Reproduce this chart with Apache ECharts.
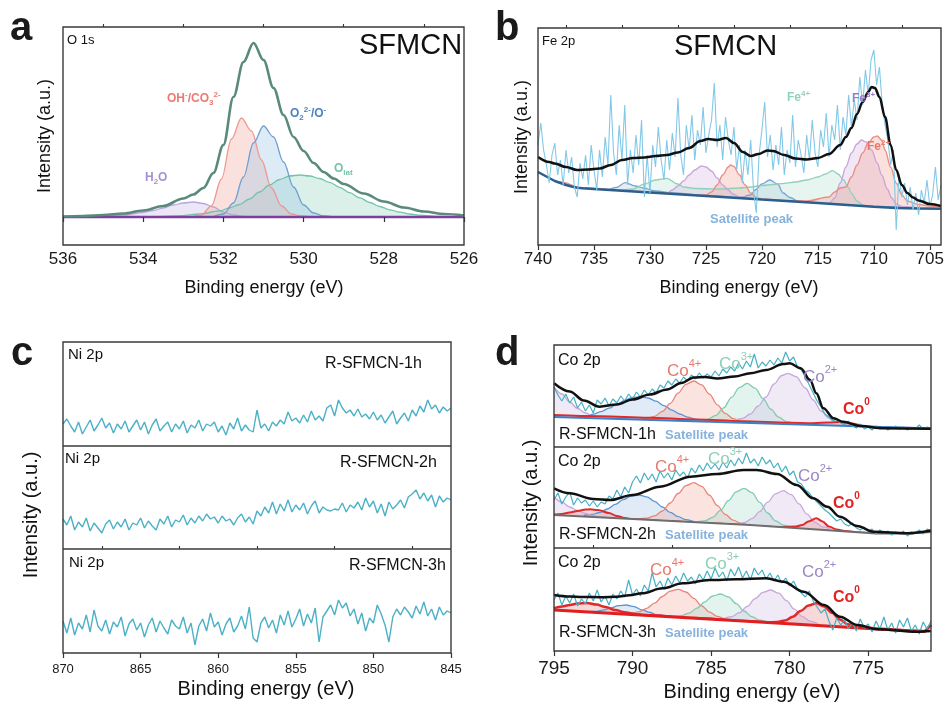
<!DOCTYPE html>
<html><head><meta charset="utf-8">
<script src="https://cdn.jsdelivr.net/npm/echarts@6/dist/echarts.min.js"></script>
<style>html,body{margin:0;padding:0;background:#fff}#c{width:947px;height:707px}</style>
</head><body><div id="c"></div>
<script>
// ---------------- DATA ----------------
// Panel a: O 1s (values = height above the flat background, in chart units)
const aTicks = [536, 534, 532, 530, 528, 526];
const aMinor = [535, 533, 531, 529, 527];
const aBaseline = [[536, 0], [526, 0]];
const aEnvelope = [[536,0.5],[535.5,1],[535,2],[534.5,3.5],[534,6.5],[533.5,11],[533,18.5],[532.75,22.5],[532.5,29],[532.25,44],[532,72],[531.75,120],[531.5,155],[531.25,174],[531,157],[530.75,129],[530.5,102],[530.25,80],[530,66],[529.75,54],[529.5,45],[529.25,38.5],[529,33],[528.5,23.5],[528,15.5],[527.5,9.5],[527,5.5],[526.5,3],[526,1.5]];
const aOH = [[532.8,0],[532.55,2],[532.3,11],[532.05,38],[531.8,78],[531.55,99],[531.3,86],[531.05,57],[530.8,29],[530.55,11],[530.3,3],[530.05,1],[529.8,0]];
const aO2 = [[532.25,0.5],[532,3],[531.75,14],[531.5,40],[531.25,74],[531,91],[530.75,80],[530.5,55],[530.25,30],[530,12],[529.75,4],[529.5,1],[529.25,0]];
const aOlat = [[534.1,0],[533.6,0.3],[533.1,1.2],[532.6,3],[532.1,6],[531.85,9],[531.6,12.5],[531.35,18],[531.1,25],[530.85,32],[530.6,37.5],[530.35,41],[530.1,42],[529.85,41],[529.6,38.5],[529.35,34.6],[529.1,29.7],[528.85,24.4],[528.6,19.2],[528.35,14.5],[528.1,10.5],[527.85,7.2],[527.6,4.8],[527.35,3],[527.1,1.8],[526.6,0.5],[526.1,0]];
const aH2O = [[535,0.5],[534.5,2],[534,4.5],[533.75,6.5],[533.5,9],[533.25,12],[533,14],[532.75,15],[532.5,13.5],[532.25,10],[532,5],[531.75,2],[531.5,0.5],[531.25,0]];

// Panel b: Fe 2p
const bTicks = [740, 735, 730, 725, 720, 715, 710, 705];
const bMinor = [737.5, 732.5, 727.5, 722.5, 717.5, 712.5, 707.5];
const bBase = [[740,73],[739.5,70],[739,67],[738.5,64],[738,62],[737.5,60],[737,58.5],[736.5,57.2],[736,56.7],[735,56],[730,52.5],[725,49],[720,45.4],[715,41.9],[710,38.3],[708,37],[706,36.5],[704,36.2]];
const bFit = [[740,88],[739,83],[738.5,81.5],[737.5,78],[736.5,75],[735.5,75.5],[734.5,76.5],[733.5,80],[732.5,85],[731.5,87],[730.5,87.5],[729.5,89],[728.5,90],[727.5,92.5],[726.5,97],[725.5,104],[724.8,106],[724,105],[723.2,107],[722.5,102],[721.7,93],[721,89],[720.3,91],[719.5,94.5],[719,94],[718,90],[717,86.5],[716,85.5],[715,87],[714,91],[713,100],[712.5,108],[712,117],[711.5,131],[711,143],[710.5,153],[710.2,158],[709.9,157],[709.5,148],[709,128],[708.5,100],[708,75],[707.5,60],[707,52],[706.5,47.5],[706,44.5],[705,41],[704,39]];
const bFe2 = [[740,73.5],[738,63],[736,57],[730,53],[726,50],[725,50],[724.5,53],[724,60],[723.5,70],[723,78],[722.8,80],[722.5,78.5],[722,70],[721.5,60],[721,52],[720.5,47.5],[720,46],[718,44.5],[716,44],[714,48],[713.5,53],[713,57],[712.5,58],[712,68],[711.5,80],[711,92],[710.5,102],[710,108],[709.7,109],[709.3,105],[709,95],[708.5,78],[708,62],[707.5,50],[707,44],[706,40.5],[705,39],[704,38.5]];
const bFe3 = [[740,72.5],[738,62.5],[736,56.8],[730,53],[728.5,51.5],[728,55],[727.5,59],[727,64],[726.5,70],[726,75],[725.4,79],[725,78],[724.5,74],[724,67],[723.5,60],[723,55],[722.6,51],[722,48],[720,45.5],[716,42.5],[714,41.5],[713.5,47],[713,62],[712.5,78],[712,92],[711.5,101],[711.1,105],[710.7,103],[710.2,95],[709.7,82],[709.3,70],[708.8,56],[708.4,47],[708,41],[707.5,38.5],[706,37],[704,36.5]];
const bFe4 = [[740,72],[738,62],[736,56.5],[733,54.5],[731.5,56],[730.5,61],[729.5,65],[728.5,66.7],[727.5,61],[727,58],[726,56.5],[724,56],[722,57],[721,58],[720,59.5],[719,60.5],[718,61.7],[717,63],[716,65],[715,68],[714.3,71],[713.7,74.3],[713.2,71],[712.7,65],[712.3,58],[712,51.7],[711.5,44],[711,40],[710.5,38.5],[709,37.5],[704,36.2]];
const bSat = [[740,72],[738,62],[736,56.5],[734,55],[733,57.5],[732.2,62.3],[731.3,59],[730.6,57],[729.5,54],[728,52],[725,49.5],[722,47.5],[721,50],[720.6,55],[720,61],[719.3,65],[718.6,61],[718.1,52],[717.5,47.5],[716.7,43.5],[714,41],[710,38.5],[704,36.2]];
const bRawStart = 740, bRawStep = -0.25;
const bRaw = [
 100,122,95,80,62,90,102,70,85,60,
 95,72,88,58,48,82,66,90,60,100,
 75,55,95,68,108,80,150,92,70,120,
 85,140,60,95,72,110,80,125,48,90,
 52,100,78,118,85,65,105,75,112,88,
 147,90,70,120,95,130,85,115,100,138,
 92,110,125,162,98,120,85,128,105,90,
 118,75,100,62,95,70,105,55,32,90,
 115,143,88,110,75,100,80,118,70,95,
 82,130,78,105,90,72,110,85,125,92,
 78,115,98,132,88,120,105,140,95,128,
 110,150,118,145,125,168,140,175,150,185,
 195,160,178,140,120,105,80,95,15,70,
 48,62,40,58,35,52,30,55,42,65,
 38,50,78,45,60];

// Panel c: Ni 2p
const cTicks = [870, 865, 860, 855, 850, 845];
const cMinor = [867.5, 862.5, 857.5, 852.5, 847.5];
const cRawStart = 870, cRawStep = -0.25;
const c1Raw = [
 22,27,20,14,24,12,19,26,15,21,
 28,18,23,13,22,17,25,14,20,26,
 16,24,12,21,27,15,20,24,14,22,
 17,25,13,21,18,26,15,22,20,24,
 14,20,11,23,17,28,15,21,16,14,
 36,18,22,15,24,20,26,22,34,25,
 28,23,31,24,35,26,30,25,38,41,
 30,46,38,33,36,30,37,29,32,27,
 34,26,31,23,29,35,22,28,33,25,
 36,30,40,34,46,37,41,33,39,35,
 38];
const c2Raw = [
 30,24,33,19,27,22,31,18,26,21,
 16,25,29,20,27,22,30,19,26,24,
 31,21,28,23,19,30,25,33,22,29,
 27,34,24,31,26,33,28,35,30,32,
 26,33,28,30,24,31,35,27,32,25,
 38,33,42,36,47,35,45,38,49,37,
 44,39,46,35,43,48,36,42,39,38,
 40,39,46,37,44,41,47,39,51,42,
 48,36,45,33,47,40,44,49,41,52,
 55,59,50,56,48,54,42,53,47,51,
 49];
const c3Raw = [
 32,20,35,18,30,24,38,21,43,27,
 22,33,19,31,26,36,17,29,34,23,
 30,16,28,35,21,32,25,19,33,27,
 24,36,20,30,8,27,34,22,40,26,
 31,18,29,35,21,27,37,24,46,15,
 11,30,36,25,33,20,38,28,42,26,
 34,44,27,39,30,45,11,36,42,48,
 38,53,45,50,37,44,29,40,22,35,
 30,48,39,28,11,36,44,38,46,41,
 35,47,39,51,37,44,33,46,38,42,
 40];

// Panel d: Co 2p
const dTicks = [795, 790, 785, 780, 775];
const dMinor = [792.5, 787.5, 782.5, 777.5, 772.5];
const dRawStart = 795, dRawStep = -0.25;
// d1 (R-SFMCN-1h)
const d1Base = [[795,30],[771,18.5]];
const d1Fit = [[795,63.7],[794,55.5],[793.1,46.5],[792.1,40.3],[791,42.5],[790,47.5],[788.9,52.5],[787.8,57.5],[786.9,64],[786.1,69.5],[785.4,70],[784.6,68.5],[783.5,70.5],[782.5,73.7],[781.5,77],[780.4,83],[780,83.7],[779.3,78.7],[778.7,67],[778.3,53.7],[777.85,38.7],[777.2,28.7],[776.6,25.3],[775.5,21],[774,18.7],[771,18.3]];
const d1Co0 = [[795,32],[792,30.8],[789,29.3],[786,27.5],[783,25.8],[780,24.2],[778.5,23.8],[777.5,24.5],[776.8,25],[776,23.5],[775.2,20.5],[774,19.2],[771,18.6]];
const d1Co2 = [[795,60],[794.5,53],[794,45],[793.5,38.5],[793,34],[792.5,31],[792,29.5],[790,28],[787,26.8],[784,25.3],[783,28.5],[782.5,33],[782,41],[781.5,50],[781,63],[780.5,71.5],[780.1,73.7],[779.6,70.5],[779,59],[778.5,47],[778,36],[777.5,29],[777,25],[776,22],[774,20],[771,18.6]];
const d1Co3 = [[786.5,26.2],[785.7,26.2],[785.2,27.7],[784.7,31.6],[784.2,39.2],[783.7,49.6],[783.2,59.3],[782.7,63.7],[782.2,58.9],[781.7,48.6],[781.2,37.8],[780.7,29.8],[780.2,25.3],[779.7,23.4]];
const d1Co4 = [[789.6,27.7],[789.1,28.5],[788.6,30.7],[788.1,35.6],[787.6,43.7],[787.1,53.8],[786.6,62.7],[786.1,66],[785.6,62.2],[785.1,52.9],[784.6,42.2],[784.1,33.7],[783.6,28.3],[783.1,25.6],[782.6,24.4]];
const d1Sat = [[793.5,30.3],[793,31.1],[792.5,32.8],[792,35.4],[791.5,38.8],[791,42.9],[790.5,46.7],[790,49.5],[789.5,50.4],[789,49],[788.5,45.8],[788,41.4],[787.5,36.9],[787,33],[786.5,29.9],[786,27.8],[785.5,26.5],[785,25.2]];
const d1Raw = [
 60,52,46,53,44,50,39,45,36,42,
 34,47,43,49,41,48,44,51,46,53,
 48,55,50,57,52,58,54,62,59,66,
 62,68,64,70,66,72,68,74,69,73,
 70,76,71,78,74,80,76,84,78,86,
 80,93,79,85,81,87,82,89,84,95,
 86,90,80,77,70,62,54,46,40,33,
 30,26,28,24,22,26,21,19,23,18,
 20,17,21,18,20,17,19,21,18,20,
 17,19,18,22,18,20,19];
// d2 (R-SFMCN-2h)
const d2Base = [[795,33],[782.5,23],[774.5,14.5],[772.5,14.5],[771,16]];
const d2Fit = [[795,59.7],[794,54.7],[792.5,49],[791.4,48],[790,53],[788.25,61.3],[786.3,71.3],[784.6,74],[782.95,78],[782.1,78],[780.8,74],[779.55,63],[778.5,49.7],[777.6,41.3],[776.8,31.3],[775.7,22],[774.65,16.3],[772.5,14.7],[771,17.5]];
const d2Co0 = [[795,33.5],[794.5,34],[794,35.5],[793.5,37],[793,38.5],[792.7,38.7],[792.2,38],[791.5,35],[791,32],[790.5,30],[790,28.8],[788,27],[785,24.6],[782,21.9],[780.5,20.8],[779.6,21.5],[779.2,23],[778.8,26.5],[778.3,29.7],[777.9,26.5],[777.5,21.5],[777,18.5],[776.5,17],[775.5,15.5],[774.5,14.6],[772.5,14.6],[771,16]];
const d2Co2 = [[795,51.3],[794.5,46],[794,41],[793.5,37.5],[793,34.5],[792.5,32.3],[792,31],[791,29.8],[790,28.8],[786,25.4],[784,23.7],[783.4,24],[782.9,25.4],[782.4,29.3],[781.9,36.4],[781.4,45.8],[780.9,54.2],[780.4,57.3],[779.9,53.3],[779.4,44.1],[778.9,33.9],[778.4,25.9],[777.9,21.2],[777.4,19]];
const d2Co3 = [[785.9,26],[785.4,27.1],[784.9,30.6],[784.4,37.6],[783.9,47.3],[783.4,56.2],[782.9,59.7],[782.4,55.3],[781.9,45.6],[781.4,35],[780.9,27.2],[780.4,22.9],[779.9,20.9]];
const d2Co4 = [[789.6,29],[789.1,29.8],[788.6,32.1],[788.1,37],[787.6,45],[787.1,54.5],[786.6,62.4],[786.1,65.3],[785.6,61.6],[785.1,52.8],[784.6,42.4],[784.1,33.6],[783.6,27.8],[783.1,24.7],[782.6,23]];
const d2Sat = [[793.1,32.5],[792.6,33.5],[792.1,35.5],[791.6,39],[791.1,43.6],[790.6,48.4],[790.1,51.9],[789.6,53],[789.1,51.1],[788.6,46.7],[788.1,41],[787.6,35.6],[787.1,31.3],[786.6,28.3],[786.1,26.5]];
const d2Raw = [
 48,55,44,51,56,43,50,45,48,42,
 47,41,46,44,52,49,58,51,61,55,
 66,72,65,75,68,74,66,77,70,75,
 68,78,72,76,70,80,75,83,77,85,
 79,84,78,86,80,88,82,90,84,95,
 85,89,82,91,84,88,80,85,76,82,
 73,77,66,64,58,55,50,46,42,38,
 35,31,27,29,24,22,25,20,18,21,
 16,19,14,18,15,17,13,16,14,17,
 12,16,15,18,14,19,17];
// d3 (R-SFMCN-3h)
const d3Base = [[795,41],[783,30],[775,22.6],[771.4,19.5],[771,26]];
const d3Fit = [[795,56],[794,54.5],[793.2,54],[792,53.8],[791,54.3],[790.2,55.8],[789.4,57.7],[788.1,62.7],[786.8,67.7],[785.1,71],[783.4,71.7],[781.5,72.7],[780.4,69.3],[779.1,59.3],[777.8,46],[776.8,34.3],[775.7,26],[774.4,21.7],[771.9,19.3],[771,20]];
const d3Co0 = [[795,42.9],[794.5,44.5],[794,46],[793.5,47.5],[792.9,48.1],[792.3,46.4],[791.7,43.9],[791.1,41],[790.5,38.8],[789.9,37.1],[789.3,36.1],[786,33.1],[783,30.1],[781.5,28.7],[780.8,29],[780.3,30.5],[779.8,34.2],[779.3,40],[778.8,45.5],[778.3,47.7],[777.8,44.6],[777.3,38.2],[776.8,31.5],[776.3,26.8],[775.8,24.4],[774,22],[772,20],[771.4,19.8],[771,26]];
const d3Co2 = [[784.2,32.5],[783.7,34.3],[783.2,38.3],[782.7,44.6],[782.2,52.3],[781.7,58.7],[781.2,61],[780.7,57.8],[780.2,50.4],[779.7,41.9],[779.2,34.6],[778.7,29.8],[778.2,27]];
const d3Co3 = [[787.4,34.5],[786.9,35.4],[786.4,37.9],[785.9,42.8],[785.4,49.2],[784.9,55],[784.4,57],[783.9,54.1],[783.4,47.4],[782.9,40],[782.4,34.3],[781.9,30.8],[781.4,29.1]];
const d3Co4 = [[790.1,37.7],[789.6,39.2],[789.1,42.6],[788.6,47.9],[788.1,54.5],[787.6,59.9],[787.1,61.7],[786.6,59],[786.1,52.6],[785.6,45.2],[785.1,38.9],[784.6,34.7],[784.1,32.2],[783.6,30.9],[783.1,30.3]];
const d3Sat = [[792.9,39.4],[792.4,39.6],[791.9,40.8],[791.4,43],[790.9,45.3],[790.4,46],[789.9,44.4],[789.4,41.2],[788.9,38.5],[788.4,36],[787.9,34.7]];
const d3Raw = [
 51,58,46,55,48,57,45,52,47,58,
 50,61,49,55,46,57,52,60,54,71,
 56,62,55,66,60,78,64,70,62,73,
 66,75,68,78,70,74,67,77,71,80,
 72,83,74,79,70,82,75,84,73,80,
 71,83,76,81,72,78,70,76,68,73,
 65,70,62,58,54,60,50,44,38,42,
 30,21,33,26,31,22,28,20,32,23,
 27,19,30,22,34,21,28,18,31,24,
 33,20,26,17,29,22,30];

// ---------------- BUILD ----------------
const FONT = '"Liberation Sans", Arial, Helvetica, sans-serif';
function pairs(start, step, vals) { return vals.map((v, i) => [start + step * i, v]); }

const grids = [
  {left: 63, top: 27, width: 401, height: 218},   // a
  {left: 538, top: 28, width: 403, height: 217},  // b
  {left: 63, top: 342, width: 388, height: 104},  // c1
  {left: 63, top: 446, width: 388, height: 103},  // c2
  {left: 63, top: 549, width: 388, height: 104},  // c3
  {left: 554, top: 345, width: 377, height: 102}, // d1
  {left: 554, top: 447, width: 377, height: 101}, // d2
  {left: 554, top: 548, width: 377, height: 103}  // d3
];
const xr = [[526,536],[704,740],[845,870],[845,870],[845,870],[771,795],[771,795],[771,795]];
const yr = [[-28,190],[0,217],[0,104],[0,103],[0,104],[0,102],[0,101],[0,103]];
const majors = [aTicks, bTicks, cTicks, cTicks, cTicks, dTicks, dTicks, dTicks];
const labelOn = [true, true, false, false, true, false, false, true];
const labFont = [17, 17, 13, 13, 13, 19, 19, 19];
const labMargin = [6, 6, 10, 10, 10, 8, 8, 8];

const xAxes = [], yAxes = [];
grids.forEach((g, i) => {
  xAxes.push({
    type: 'value', gridIndex: i, min: xr[i][0], max: xr[i][1], inverse: true, z: 10,
    axisLine: {show: false}, splitLine: {show: false},
    axisTick: {show: labelOn[i], inside: false, length: 5, lineStyle: {color: '#333', width: 1.2}, customValues: majors[i]},
    axisLabel: {show: labelOn[i], customValues: majors[i], fontSize: labFont[i], color: '#1a1a1a', fontFamily: FONT, margin: labMargin[i], showMinLabel: true, showMaxLabel: true}
  });
  yAxes.push({type: 'value', gridIndex: i, min: yr[i][0], max: yr[i][1], show: false});
});
// minor tick axes
[[0, aMinor], [1, bMinor], [4, cMinor], [7, dMinor]].forEach(([gi, mv]) => {
  xAxes.push({
    type: 'value', gridIndex: gi, min: xr[gi][0], max: xr[gi][1], inverse: true, z: 10,
    axisLine: {show: false}, splitLine: {show: false},
    axisTick: {show: true, inside: false, length: 3, lineStyle: {color: '#333', width: 1.1}, customValues: mv},
    axisLabel: {show: false}
  });
});

const series = [];
function add(gi, data, o) {
  series.push(Object.assign({
    type: 'line', xAxisIndex: gi, yAxisIndex: gi, data: data,
    showSymbol: false, symbol: 'none', smooth: 0.35, smoothMonotone: 'x',
    silent: true, animation: false, z: 2, lineStyle: {width: 1.3}
  }, o));
}
function comp(gi, data, line, fill, w) {
  add(gi, data, {lineStyle: {color: line, width: w || 1.3}, areaStyle: {color: fill, origin: 'auto'}, z: 2});
}
function base(gi, data, color, w) {
  add(gi, data, {smooth: false, lineStyle: {color: color, width: w}, areaStyle: {color: '#ffffff', opacity: 1, origin: 'start'}, z: 3});
}
function raw(gi, data, color, w) { add(gi, data, {smooth: false, lineStyle: {color: color, width: w || 1.2}, z: 4}); }
function fit(gi, data, color, w) { add(gi, data, {lineStyle: {color: color, width: w}, z: 5}); }

// a
comp(0, aH2O, '#b9a6dc', 'rgba(205,192,232,0.55)');
comp(0, aOlat, '#74c3aa', 'rgba(150,212,190,0.5)');
comp(0, aOH, '#ec9a90', 'rgba(244,170,160,0.5)');
comp(0, aO2, '#6e9fd2', 'rgba(160,198,232,0.5)');
base(0, aBaseline, '#7d3f9c', 2.5);
fit(0, aEnvelope, '#5a8a7d', 2.6);
// b
comp(1, bSat, '#76a5d6', 'rgba(160,190,228,0.4)');
comp(1, bFe4, '#8fd1b8', 'rgba(170,220,200,0.4)');
comp(1, bFe3, '#c9a4d8', 'rgba(212,180,225,0.45)');
comp(1, bFe2, '#eb8c80', 'rgba(242,160,148,0.45)');
base(1, bBase, '#2b5f8e', 2.5);
raw(1, pairs(bRawStart, bRawStep, bRaw), '#82c8e8', 1.1);
fit(1, bFit, '#111111', 2.5);
// c
raw(2, pairs(cRawStart, cRawStep, c1Raw), '#4cb0c6', 1.4);
raw(3, pairs(cRawStart, cRawStep, c2Raw), '#4cb0c6', 1.4);
raw(4, pairs(cRawStart, cRawStep, c3Raw), '#4cb0c6', 1.4);
// d
const dSets = [
  [5, d1Sat, d1Co4, d1Co3, d1Co2, d1Co0, d1Base, d1Raw, d1Fit, '#3d7fc6', 2, 2],
  [6, d2Sat, d2Co4, d2Co3, d2Co2, d2Co0, d2Base, d2Raw, d2Fit, '#6e6e6e', 2, 2],
  [7, d3Sat, d3Co4, d3Co3, d3Co2, d3Co0, d3Base, d3Raw, d3Fit, '#e02020', 3, 2.5]
];
dSets.forEach(s => {
  const gi = s[0];
  comp(gi, s[1], '#5b95d0', 'rgba(140,180,225,0.38)');
  comp(gi, s[2], '#e8857a', 'rgba(240,150,135,0.38)');
  comp(gi, s[3], '#7fcab3', 'rgba(150,215,195,0.38)');
  comp(gi, s[4], '#c8a8dc', 'rgba(205,180,225,0.42)');
  comp(gi, s[5], '#e02a2a', 'rgba(230,110,110,0.38)', s[11]);
  base(gi, s[6], s[9], s[10]);
  raw(gi, pairs(dRawStart, dRawStep, s[7]), '#48b0c5', 1.2);
  fit(gi, s[8], '#111111', 2.5);
});

// ---------------- TEXT & FRAMES ----------------
const G = [];
function txt(x, y, text, size, o) {
  const st = Object.assign({text: text, fontSize: size, fontFamily: FONT, fill: '#111', textAlign: 'left', textVerticalAlign: 'middle'}, o || {});
  G.push({type: 'text', x: x, y: y, z: 100, style: st});
}
function rtxt(x, y, text, size, color, weight, lhf) {
  const sm = Math.round(size * 0.64);
  const mk = (fs, va, lh) => ({fontSize: fs, fontWeight: weight, fill: color, color: color, fontFamily: FONT, verticalAlign: va, lineHeight: lh});
  G.push({type: 'text', x: x, y: y, z: 100, style: {
    text: text, fontSize: size, fontFamily: FONT, fontWeight: weight, fill: color, textAlign: 'left', textVerticalAlign: 'middle',
    rich: {b: mk(size, 'middle', Math.round(size * (lhf || 1.45))), p: mk(sm, 'top', sm + 1), s: mk(sm, 'bottom', sm + 1)}
  }});
}
function rot(x, y, text, size) {
  G.push({type: 'text', x: x, y: y, rotation: Math.PI / 2, z: 100, style: {text: text, fontSize: size, fontFamily: FONT, fill: '#111', textAlign: 'center', textVerticalAlign: 'middle'}});
}
function frame(x, y, w, h) {
  G.push({type: 'rect', z: 90, shape: {x: x, y: y, width: w, height: h}, style: {fill: 'none', stroke: '#3a3a3a', lineWidth: 1.4}});
}
function hline(x1, x2, y) {
  G.push({type: 'line', z: 90, shape: {x1: x1, y1: y, x2: x2, y2: y}, style: {stroke: '#3a3a3a', lineWidth: 1.4}});
}
frame(63, 27, 401, 218);
frame(538, 28, 403, 217);
frame(63, 342, 388, 311); hline(63, 451, 446); hline(63, 451, 549);
frame(554, 345, 377, 306); hline(554, 931, 447); hline(554, 931, 548);

// panel letters
txt(10, 29, 'a', 40, {fontWeight: 'bold', fill: '#1a1a1a'});
txt(495, 29, 'b', 40, {fontWeight: 'bold', fill: '#1a1a1a'});
txt(11, 354, 'c', 40, {fontWeight: 'bold', fill: '#1a1a1a'});
txt(495, 354, 'd', 40, {fontWeight: 'bold', fill: '#1a1a1a'});

// axis titles
txt(264, 288, 'Binding energy (eV)', 18, {textAlign: 'center'});
txt(739, 288, 'Binding energy (eV)', 18, {textAlign: 'center'});
txt(266, 689, 'Binding energy (eV)', 20, {textAlign: 'center'});
txt(752, 692, 'Binding energy (eV)', 20, {textAlign: 'center'});
rot(45, 136, 'Intensity (a.u.)', 18);
rot(522, 137, 'Intensity (a.u.)', 18);
rot(31, 515, 'Intensity (a.u.)', 20);
rot(531, 503, 'Intensity (a.u.)', 20);

// panel a
txt(67, 40, 'O 1s', 13);
txt(359, 46, 'SFMCN', 29);
rtxt(167, 99, '{b|OH}{p|-}{b|/CO}{s|3}{p|2-}', 12, '#ec7a70', 'bold', 1.3);
rtxt(290, 114, '{b|O}{s|2}{p|2-}{b|/O}{p|-}', 12, '#4e82c4', 'bold', 1.3);
rtxt(145, 178, '{b|H}{s|2}{b|O}', 12, '#a391d6', 'bold', 1.3);
rtxt(334, 169, '{b|O}{s|lat}', 12, '#72c6a6', 'bold', 1.3);
// panel b
txt(542, 41, 'Fe 2p', 13);
txt(674, 47, 'SFMCN', 29);
rtxt(787, 98, '{b|Fe}{p|4+}', 12, '#8fd3b9', 'bold', 1.4);
rtxt(852, 99, '{b|Fe}{p|3+}', 12, '#9b7dc3', 'bold', 1.4);
rtxt(867, 147, '{b|Fe}{p|2+}', 12, '#e8766c', 'bold', 1.4);
txt(710, 219, 'Satellite peak', 13, {fontWeight: 'bold', fill: '#86b2dd'});
// panel c
txt(68, 355, 'Ni 2p', 15); txt(325, 364, 'R-SFMCN-1h', 16);
txt(65, 459, 'Ni 2p', 15); txt(340, 463, 'R-SFMCN-2h', 16);
txt(69, 563, 'Ni 2p', 15); txt(349, 566, 'R-SFMCN-3h', 16);
// panel d
const dLab = [
  {cp: 361, c4: [667, 371], c3: [719, 364], c2: [803, 377], c0: [843, 410], r: 435, rn: 'R-SFMCN-1h'},
  {cp: 462, c4: [655, 467], c3: [708, 459], c2: [798, 476], c0: [833, 504], r: 535, rn: 'R-SFMCN-2h'},
  {cp: 563, c4: [650, 570], c3: [705, 564], c2: [802, 572], c0: [833, 598], r: 633, rn: 'R-SFMCN-3h'}
];
dLab.forEach(L => {
  txt(558, L.cp, 'Co 2p', 16);
  rtxt(L.c4[0], L.c4[1], '{b|Co}{p|4+}', 17, '#e8776e', 'normal', 1.55);
  rtxt(L.c3[0], L.c3[1], '{b|Co}{p|3+}', 17, '#8ccfb6', 'normal', 1.55);
  rtxt(L.c2[0], L.c2[1], '{b|Co}{p|2+}', 17, '#9b86c8', 'normal', 1.55);
  rtxt(L.c0[0], L.c0[1], '{b|Co}{p|0}', 16, '#e02424', 'bold', 1.55);
  txt(559, L.r, L.rn, 16);
  txt(665, L.r, 'Satellite peak', 13, {fontWeight: 'bold', fill: '#86b2dd'});
});

const chart = echarts.init(document.getElementById('c'), null, {renderer: 'canvas', width: 947, height: 707});
chart.setOption({
  backgroundColor: '#ffffff',
  animation: false,
  grid: grids,
  xAxis: xAxes,
  yAxis: yAxes,
  series: series,
  graphic: G
});
</script></body></html>
